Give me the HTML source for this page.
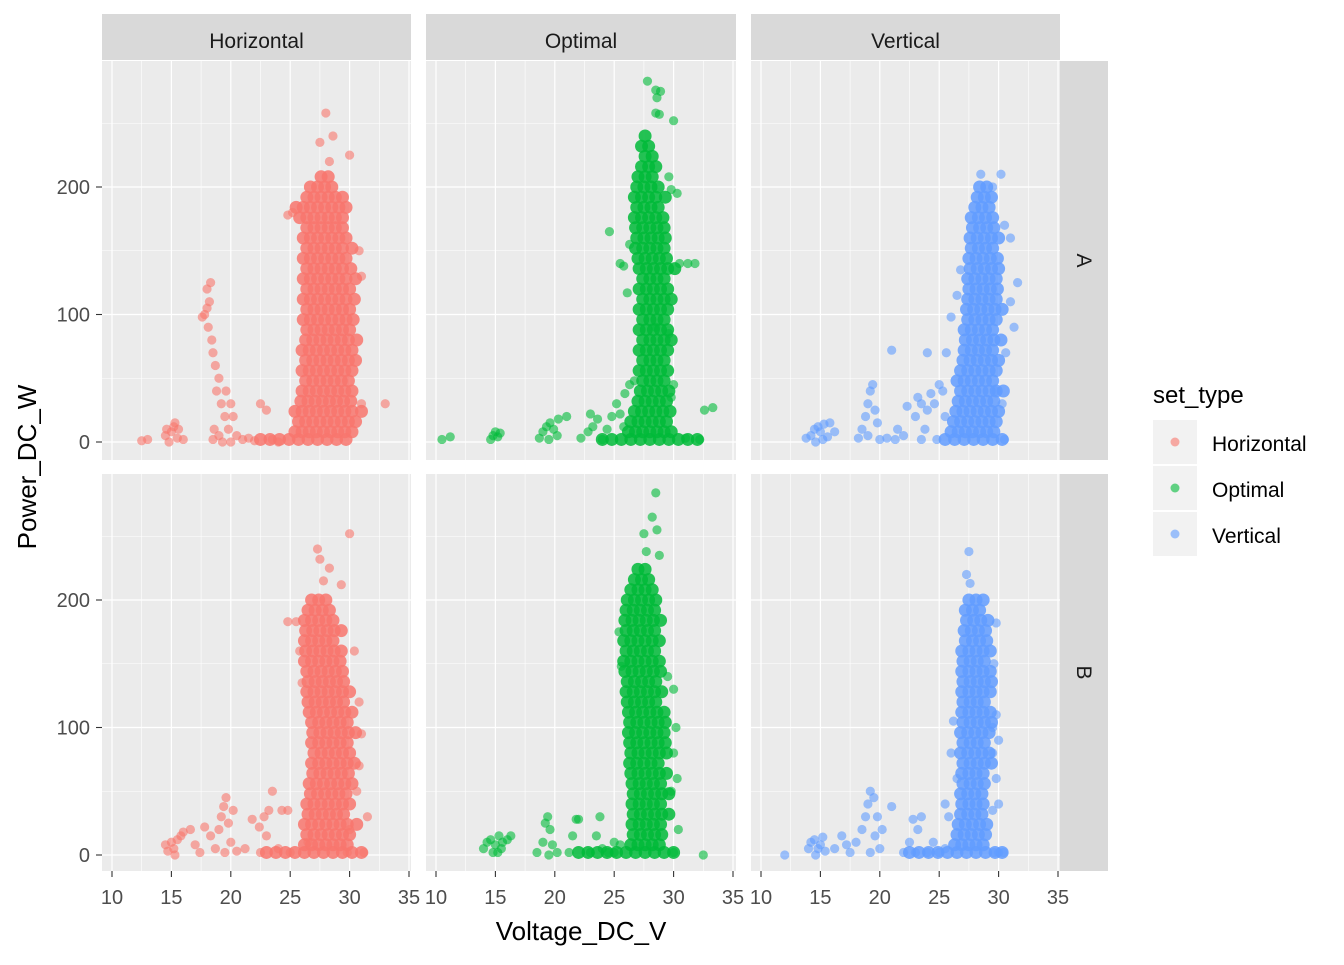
<!DOCTYPE html>
<html><head><meta charset="utf-8"><style>
body{margin:0;background:#fff;}
svg text{font-family:"Liberation Sans",Arial,sans-serif;}
</style></head><body>
<svg id="chart" width="1344" height="960" xmlns="http://www.w3.org/2000/svg">
<g id="panels"></g><g id="pts"></g><g id="labels"></g>
<g>
<text x="1153" y="403" font-size="24" fill="#000">set_type</text>
<g><rect x="1153" y="420" width="44" height="44" fill="#F2F2F2"/><circle cx="1175" cy="442" r="4.5" fill="#F8766D" fill-opacity="0.6"/><text x="1212" y="451" font-size="21">Horizontal</text></g>
<g><rect x="1153" y="466" width="44" height="44" fill="#F2F2F2"/><circle cx="1175" cy="488" r="4.5" fill="#00BA38" fill-opacity="0.6"/><text x="1212" y="497" font-size="21">Optimal</text></g>
<g><rect x="1153" y="512" width="44" height="44" fill="#F2F2F2"/><circle cx="1175" cy="534" r="4.5" fill="#619CFF" fill-opacity="0.6"/><text x="1212" y="543" font-size="21">Vertical</text></g>
</g>
</svg>
<script>
const colNames=["Horizontal","Optimal","Vertical"];
const rowNames=["A","B"];
const colors=["#F8766D","#00BA38","#619CFF"];
const xTicks=[10,15,20,25,30,35];
const yTicks=[0,100,200];
// data: scattered points [voltage, power]; core rows [power, voltage...]
const hA_pts=[[12.5,1],[13,2],[14.5,5],[15,8],[15.2,12],[15.5,3],[14.8,0],[15.6,10],[16,2],[15.3,15],[14.6,10],[17.8,100],[18,105],[18.2,110],[18,120],[18.3,125],[17.6,98],[18.1,90],[18.4,80],[18.5,70],[18.7,60],[19,50],[18.8,40],[19.2,30],[19.5,20],[18.6,10],[19,5],[19.3,0],[18.5,2],[20,30],[20.2,20],[19.8,10],[20.5,5],[19.6,40],[20,0],[21,2],[22,1],[22.5,30],[23,25],[23.5,2],[24,0],[21.5,3],[28,258],[28.6,240],[27.5,235],[30,225],[28.3,220],[33,30],[31,30],[30.8,150],[31,130],[25.2,180],[24.8,178]];
const hA_core=[[2,22.5,23.3,24.1,24.9,25.7,26.5,27.3,28.1,28.9,29.7],[8,25.4,26,26.6,27.2,27.8,28.4,29,29.6,30.2],[16,25.7,26.3,26.9,27.5,28.1,28.7,29.3,29.9,30.5],[24,25.4,26,26.6,27.2,27.8,28.4,29,29.6,30.2,31],[32,25.9,26.5,27.1,27.7,28.3,28.9,29.5,30.1],[40,26,26.6,27.2,27.8,28.4,29,29.6,30.2],[48,26.3,26.9,27.5,28.1,28.7,29.3,29.9],[56,26,26.6,27.2,27.8,28.4,29,29.6,30.2],[64,26.3,26.9,27.5,28.1,28.7,29.3,29.9,30.5],[72,26,26.6,27.2,27.8,28.4,29,29.6,30.2],[80,26.3,26.9,27.5,28.1,28.7,29.3,29.9,30.6],[88,26.4,27,27.6,28.2,28.8,29.4,30],[96,26.1,26.7,27.3,27.9,28.5,29.1,29.7,30.3],[104,26.4,27,27.6,28.2,28.8,29.4,30],[112,26.1,26.7,27.3,27.9,28.5,29.1,29.7,30.4],[120,26.4,27,27.6,28.2,28.8,29.4,30],[128,26.1,26.7,27.3,27.9,28.5,29.1,29.7,30.5],[136,26.4,27,27.6,28.2,28.8,29.4,30.1],[144,26.1,26.7,27.3,27.9,28.5,29.1,29.7],[152,26.4,27,27.6,28.2,28.8,29.4,30.2],[160,26.1,26.7,27.3,27.9,28.5,29.1,29.7],[168,26.4,27,27.6,28.2,28.8,29.4],[176,25.8,26.4,27,27.6,28.2,28.8,29.4],[184,25.5,26.1,26.7,27.3,27.9,28.5,29.1,29.7],[192,26.4,27,27.6,28.2,28.8,29.4],[200,26.7,27.3,27.9,28.5],[208,27.6,28.2]];
const oA_pts=[[27.8,283],[28.5,276],[28.9,275],[28.6,270],[28.5,258],[28.8,257],[30,252],[29.6,208],[29.8,198],[30.3,195],[30.5,140],[31.2,140],[31.8,140],[25.5,140],[25.8,138],[24.6,165],[26.3,155],[26.1,117],[28.5,90],[29.6,85],[30,45],[29.8,35],[32.6,25],[33.3,27],[31,3],[32.2,2],[10.5,2],[11.2,4],[14.6,2],[14.8,5],[15,8],[15.2,4],[15.4,7],[18.7,3],[19,8],[19.3,12],[19.6,15],[19.9,10],[20.2,5],[19.5,2],[20.3,18],[21,20],[22.2,3],[22.8,8],[23.2,12],[23.6,18],[24,2],[24.4,10],[24.8,20],[25.2,30],[25.5,22],[25.9,38],[26.3,45],[25.8,12],[26.7,48],[23,22]];
const oA_core=[[2,24,24.8,25.6,26.4,27.2,28,28.8,29.6,30.4,31.2,32],[8,26.2,26.8,27.4,28,28.6,29.2,29.8],[16,26.4,27,27.6,28.2,28.8,29.4],[24,26.7,27.3,27.9,28.5,29.1,29.7],[32,27,27.6,28.2,28.8,29.4],[40,27.2,27.8,28.4,29,29.6],[48,27.4,28,28.6,29.2],[56,27.1,27.7,28.3,28.9,29.5],[64,27.4,28,28.6,29.2],[72,27.1,27.7,28.3,28.9,29.5],[80,27.4,28,28.6,29.2,29.8],[88,27.1,27.7,28.3,28.9,29.5],[96,27.4,28,28.6,29.2],[104,27.1,27.7,28.3,28.9,29.5],[112,27.4,28,28.6,29.2,29.8],[120,27.1,27.7,28.3,28.9,29.5],[128,27.4,28,28.6,29.2],[136,27.1,27.7,28.3,28.9,29.5,30.1],[144,27,27.6,28.2,28.8,29.4],[152,26.8,27.4,28,28.6,29.2],[160,26.9,27.5,28.1,28.7,29.3],[168,26.8,27.4,28,28.6,29.2],[176,26.7,27.3,27.9,28.5,29.1],[184,26.9,27.5,28.1,28.7],[192,26.7,27.3,27.9,28.5,29.3],[200,26.9,27.5,28.1,28.7],[208,27,27.6,28.2],[216,27.3,27.9,28.5],[224,27.6,28.2],[232,27.3,27.9],[240,27.6]];
const vA_pts=[[13.8,3],[14.2,5],[14.5,10],[14.8,12],[15,8],[15.3,14],[15.6,4],[14.6,0],[15.2,2],[15.8,15],[16.2,8],[18.2,3],[18.5,10],[18.8,20],[19,30],[19.2,40],[19.4,45],[19.6,25],[19.8,15],[19,5],[20,2],[20.6,3],[21.3,2],[21.5,10],[22,5],[21,72],[22.3,28],[23,20],[23.2,35],[23.5,30],[23.8,10],[23.5,2],[24,25],[24.3,38],[24.6,30],[24.8,2],[25,45],[25.3,40],[25.5,20],[24,70],[28.5,210],[30.2,210],[29.5,200],[30.5,170],[31,160],[31.6,125],[31,110],[31.3,90],[30.6,70],[29.8,40],[30.3,30],[26.8,135],[26.5,115],[26,98],[25.6,70],[30.5,2]];
const vA_core=[[2,25.5,26.3,27.1,27.9,28.7,29.5,30.3],[8,26,26.6,27.2,27.8,28.4,29,29.6],[16,26.2,26.8,27.4,28,28.6,29.2,29.8],[24,26.4,27,27.6,28.2,28.8,29.4,30],[32,26.6,27.2,27.8,28.4,29,29.6],[40,26.8,27.4,28,28.6,29.2,29.8,30.4],[48,26.5,27.1,27.7,28.3,28.9,29.5],[56,26.8,27.4,28,28.6,29.2,29.8],[64,27,27.6,28.2,28.8,29.4,30],[72,27.1,27.7,28.3,28.9,29.5],[80,27.2,27.8,28.4,29,29.6,30.2],[88,27.1,27.7,28.3,28.9,29.5],[96,27.4,28,28.6,29.2,29.8],[104,27.3,27.9,28.5,29.1,29.7,30.3],[112,27.4,28,28.6,29.2,29.8],[120,27.5,28.1,28.7,29.3,29.9],[128,27.4,28,28.6,29.2,29.8],[136,27.6,28.2,28.8,29.4,30],[144,27.5,28.1,28.7,29.3,29.9],[152,27.7,28.3,28.9,29.5],[160,27.6,28.2,28.8,29.4,30],[168,27.8,28.4,29,29.6],[176,27.7,28.3,28.9,29.5],[184,28,28.6,29.2],[192,28.2,28.8,29.4],[200,28.4,29]];
const hB_pts=[[14.5,8],[14.7,3],[15,10],[15.2,5],[15.5,12],[15.8,15],[15.3,0],[16,18],[16.6,20],[17,8],[17.4,2],[17.8,22],[18.3,15],[18.7,5],[19,20],[19.2,30],[19.4,38],[19.6,45],[19.8,25],[20,10],[20.2,35],[19.5,2],[20.5,3],[21.2,5],[21.8,28],[22.4,22],[22.8,30],[23.2,35],[22.5,2],[23,15],[23.5,50],[24,5],[24.3,35],[24.8,35],[25,2],[26.5,10],[30,252],[27.3,240],[27.5,232],[28.3,225],[27.8,215],[29.3,212],[25.5,183],[24.8,183],[25.8,160],[26,135],[30.4,160],[30.8,120],[31,95],[30.8,70],[30.6,50],[31.5,30],[30,20],[31.2,2],[29.8,2]];
const hB_core=[[2,23,23.8,24.6,25.4,26.2,27,27.8,28.6,29.4,30.2,31],[8,26.2,26.8,27.4,28,28.6,29.2,29.8],[16,26.4,27,27.6,28.2,28.8,29.4,30],[24,26.2,26.8,27.4,28,28.6,29.2,29.8,30.6],[32,26.5,27.1,27.7,28.3,28.9,29.5],[40,26.4,27,27.6,28.2,28.8,29.4,30],[48,26.7,27.3,27.9,28.5,29.1,29.7],[56,26.6,27.2,27.8,28.4,29,29.6,30.2],[64,26.9,27.5,28.1,28.7,29.3,29.9],[72,26.8,27.4,28,28.6,29.2,29.8,30.4],[80,27,27.6,28.2,28.8,29.4,30],[88,26.8,27.4,28,28.6,29.2,29.8],[96,26.9,27.5,28.1,28.7,29.3,29.9,30.5],[104,26.8,27.4,28,28.6,29.2,29.8],[112,26.6,27.2,27.8,28.4,29,29.6,30.2],[120,26.5,27.1,27.7,28.3,28.9,29.5],[128,26.4,27,27.6,28.2,28.8,29.4,30],[136,26.5,27.1,27.7,28.3,28.9,29.5],[144,26.4,27,27.6,28.2,28.8,29.4],[152,26.2,26.8,27.4,28,28.6,29.2],[160,26.3,26.9,27.5,28.1,28.7,29.3],[168,26.2,26.8,27.4,28,28.6],[176,26.3,26.9,27.5,28.1,28.7,29.3],[184,26.2,26.8,27.4,28,28.6],[192,26.5,27.1,27.7,28.3],[200,26.8,27.4,28]];
const oB_pts=[[14,5],[14.3,10],[14.6,12],[14.8,2],[15,8],[15.3,15],[15.6,10],[15.2,2],[16,12],[16.3,15],[15.5,5],[18.5,2],[19,10],[19.2,25],[19.4,30],[19.6,20],[19.8,8],[20.2,2],[19.5,0],[21.2,2],[21.5,15],[21.8,28],[22,28],[23,2],[23.5,15],[23.8,30],[24,5],[24.5,2],[25,2],[25,10],[25.5,8],[28.5,284],[28.2,265],[27.5,252],[28.6,255],[27.7,238],[28.8,235],[25.4,175],[25.6,148],[29.5,140],[30,130],[30.2,100],[30,80],[30.3,60],[29.8,50],[30.4,20],[32.5,0],[30,2]];
const oB_core=[[2,22,22.8,23.6,24.4,25.2,26,26.8,27.6,28.4,29.2,30],[8,26.4,27,27.6,28.2,28.8],[16,26.6,27.2,27.8,28.4,29],[24,26.5,27.1,27.7,28.3,28.9],[32,26.6,27.2,27.8,28.4,29,29.6],[40,26.5,27.1,27.7,28.3,28.9],[48,26.6,27.2,27.8,28.4,29,29.6],[56,26.5,27.1,27.7,28.3,28.9],[64,26.4,27,27.6,28.2,28.8,29.4],[72,26.3,26.9,27.5,28.1,28.7],[80,26.4,27,27.6,28.2,28.8,29.4],[88,26.3,26.9,27.5,28.1,28.7,29.3],[96,26.2,26.8,27.4,28,28.6,29.2],[104,26.3,26.9,27.5,28.1,28.7,29.3],[112,26.2,26.8,27.4,28,28.6,29.2],[120,26.1,26.7,27.3,27.9,28.5],[128,26,26.6,27.2,27.8,28.4,29],[136,26.1,26.7,27.3,27.9,28.5],[144,25.9,26.5,27.1,27.7,28.3,28.9],[152,25.8,26.4,27,27.6,28.2,28.8],[160,26,26.6,27.2,27.8,28.4],[168,25.8,26.4,27,27.6,28.2,28.8],[176,26,26.6,27.2,27.8,28.4],[184,25.9,26.5,27.1,27.7,28.3,28.9],[192,26,26.6,27.2,27.8,28.4],[200,26.1,26.7,27.3,27.9,28.5],[208,26.4,27,27.6,28.2],[216,26.7,27.3,27.9],[224,27,27.6]];
const vB_pts=[[12,0],[14,5],[14.2,10],[14.5,12],[14.8,5],[15,8],[15.2,14],[15.4,3],[14.6,0],[16.2,5],[16.8,15],[17.2,8],[17.5,2],[18,10],[18.5,20],[18.8,30],[19,40],[19.2,50],[19.5,45],[19.8,30],[19.6,15],[20,5],[19.2,2],[20.2,20],[21,38],[22,2],[22.5,10],[22.8,28],[23.2,20],[23.5,30],[23,2],[24,2],[24.5,10],[25,2],[25.5,5],[27.5,238],[27.3,220],[27.6,213],[29.8,182],[29.6,150],[29.8,110],[29.5,100],[30,90],[29.5,80],[29.8,60],[30,40],[29.5,35],[26,80],[26.2,105],[26.5,60],[25.5,40],[25.8,30],[30,2],[30.4,2],[29.6,2]];
const vB_core=[[2,22.5,23.3,24.1,24.9,25.7,26.5,27.3,28.1,28.9,29.7,30.3],[8,26.3,26.9,27.5,28.1,28.7],[16,26.5,27.1,27.7,28.3,28.9],[24,26.6,27.2,27.8,28.4,29],[32,26.8,27.4,28,28.6],[40,26.9,27.5,28.1,28.7],[48,26.8,27.4,28,28.6],[56,27,27.6,28.2,28.8],[64,26.9,27.5,28.1,28.7],[72,27,27.6,28.2,28.8,29.4],[80,26.8,27.4,28,28.6,29.2],[88,27,27.6,28.2,28.8],[96,26.8,27.4,28,28.6,29.2],[104,27,27.6,28.2,28.8,29.4],[112,26.9,27.5,28.1,28.7,29.3],[120,27,27.6,28.2,28.8],[128,26.9,27.5,28.1,28.7,29.3],[136,27,27.6,28.2,28.8,29.4],[144,26.9,27.5,28.1,28.7,29.3],[152,27,27.6,28.2,28.8],[160,26.9,27.5,28.1,28.7,29.3],[168,27.2,27.8,28.4,29],[176,27.1,27.7,28.3,28.9],[184,27.3,27.9,28.5,29.1],[192,27.2,27.8,28.4],[200,27.5,28.1,28.7]];

const NS="http://www.w3.org/2000/svg";
const panelX=[[102,411],[426,736],[751,1060]], panelY=[[61,460],[474,871]];
const x0=[112,436,761], xs=11.88, y0=[442,855], ys=1.275;
const X=(c,v)=>x0[c]+(v-10)*xs, Y=(r,p)=>y0[r]-p*ys;
function mk(tag,a,parent){const e=document.createElementNS(NS,tag);for(const k in a)e.setAttribute(k,a[k]);parent.appendChild(e);return e;}
const gP=document.getElementById('panels'),gPts=document.getElementById('pts'),gL=document.getElementById('labels');
for(let r=0;r<2;r++)for(let c=0;c<3;c++){
  const [xa,xb]=panelX[c],[ya,yb]=panelY[r];
  const bg=mk('rect',{x:xa,y:ya,width:xb-xa,height:yb-ya,fill:'#EBEBEB'},gP);
  
  
  [50,150,250].forEach(p=>{const y=Y(r,p);if(y>ya)mk('line',{x1:xa,x2:xb,y1:y,y2:y,stroke:'#fff','stroke-width':0.6},gP);});
  [12.5,17.5,22.5,27.5,32.5].forEach(v=>{const x=X(c,v);mk('line',{x1:x,x2:x,y1:ya,y2:yb,stroke:'#fff','stroke-width':0.6},gP);});
  yTicks.forEach(p=>{const y=Y(r,p);mk('line',{x1:xa,x2:xb,y1:y,y2:y,stroke:'#fff','stroke-width':1.2},gP);});
  xTicks.forEach(v=>{const x=X(c,v);if(x<xb)mk('line',{x1:x,x2:x,y1:ya,y2:yb,stroke:'#fff','stroke-width':1.2},gP);});
}
const sets=[[hA_pts,hA_core,0,0],[oA_pts,oA_core,1,0],[vA_pts,vA_core,2,0],[hB_pts,hB_core,0,1],[oB_pts,oB_core,1,1],[vB_pts,vB_core,2,1]];
sets.forEach(([pts,core,c,r])=>{
  const g=mk('g',{fill:colors[c],'fill-opacity':0.6},gPts);
  
  
  core.forEach(row=>{for(let i=1;i<row.length;i++)mk('circle',{cx:X(c,row[i]),cy:Y(r,row[0]),r:6.5,'fill-opacity':0.85},g);});
  pts.forEach(([v,p])=>mk('circle',{cx:X(c,v),cy:Y(r,p),r:4.6},g));
});
colNames.forEach((n,c)=>{
  const s=mk('rect',{x:panelX[c][0],y:14,width:panelX[c][1]-panelX[c][0],height:46,fill:'#D9D9D9'},gL);
  
  
  const t=mk('text',{x:(panelX[c][0]+panelX[c][1])/2,y:48,'text-anchor':'middle','font-size':21,fill:'#1A1A1A'},gL);t.textContent=n;
  
  
  xTicks.forEach(v=>{const x=X(c,v);mk('line',{x1:x,x2:x,y1:871,y2:877,stroke:'#333','stroke-width':1.1},gL);
    const tt=mk('text',{x:x,y:904,'text-anchor':'middle','font-size':20,fill:'#4D4D4D'},gL);tt.textContent=v;
    
    });
});
rowNames.forEach((n,r)=>{
  const s=mk('rect',{x:1060,y:panelY[r][0],width:48,height:panelY[r][1]-panelY[r][0],fill:'#D9D9D9'},gL);
  
  
  const cy=(panelY[r][0]+panelY[r][1])/2;
  const t=mk('text',{x:1084,y:cy,'text-anchor':'middle','font-size':21,fill:'#1A1A1A',transform:`rotate(90 1084 ${cy}) translate(0 7)`},gL);t.textContent=n;
  
  
  yTicks.forEach(p=>{const y=Y(r,p);mk('line',{x1:96,x2:102,y1:y,y2:y,stroke:'#333','stroke-width':1.1},gL);
    const tt=mk('text',{x:90,y:y+7,'text-anchor':'end','font-size':20,fill:'#4D4D4D'},gL);tt.textContent=p;
    
    });
});
const xt=mk('text',{x:581,y:940,'text-anchor':'middle','font-size':26,fill:'#000'},gL);xt.textContent='Voltage_DC_V';


const yt=mk('text',{x:36,y:467,'text-anchor':'middle','font-size':26,fill:'#000',transform:'rotate(-90 36 467)'},gL);yt.textContent='Power_DC_W';


</script>
</body></html>
